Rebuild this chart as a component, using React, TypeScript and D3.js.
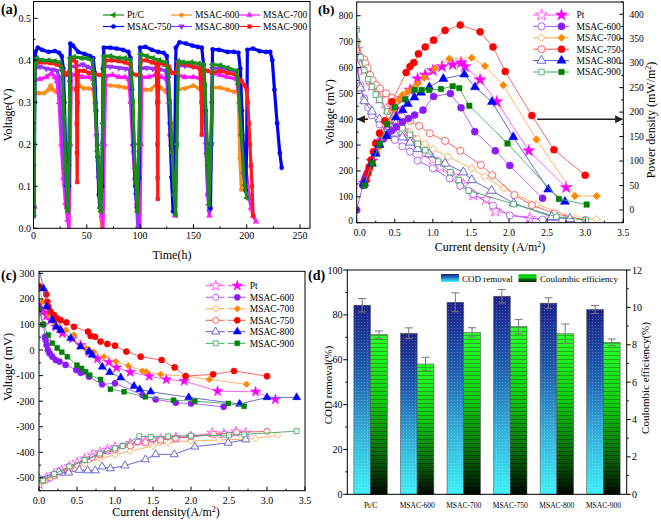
import React from "react";
import * as d3 from "d3";

const FONT = "'Liberation Serif','Times New Roman',serif";
type P = [number, number];

// ---------------- (a) voltage vs time: [h, V]
const aPtC: P[] = [[0.3,0.03],[0.8,0.2],[1.3,0.39],[3,0.405],[8,0.4],[14,0.4],[20,0.398],[25,0.395],[27,0.375],[28.6,0.263],[30.2,0.143],[31.8,0.048],[32.5,0.04],[33.5,0.2],[34.2,0.405],[38,0.408],[45,0.405],[50,0.405],[55,0.4],[57,0.343],[60,0.183],[62.5,0.048],[63.2,0.04],[65,0.25],[66.1,0.41],[72,0.41],[80,0.405],[86,0.405],[91,0.4],[93.3,0.3],[95.2,0.143],[97.4,0.04],[98.8,0.2],[100.5,0.415],[106,0.41],[112,0.405],[118,0.4],[124,0.395],[126,0.38],[128,0.3],[130,0.18],[132,0.08],[133.4,0.032],[134.5,0.2],[135.8,0.398],[140,0.395],[148,0.395],[155,0.392],[159.3,0.39],[161,0.34],[163,0.18],[164.5,0.056],[166,0.15],[168,0.39],[175,0.388],[182,0.382],[190.6,0.375],[192.1,0.343],[195,0.223],[198,0.103],[200.2,0.072]];
const a600: P[] = [[0.5,0.1],[1,0.32],[5,0.322],[10,0.322],[14,0.33],[16,0.34],[18,0.33],[21,0.325],[24,0.322],[26,0.31],[28,0.22],[30,0.12],[32,0.05],[33.5,0.15],[34.8,0.33],[38,0.333],[43,0.34],[47,0.333],[52,0.333],[56,0.33],[58,0.28],[60,0.16],[62,0.06],[64,0.0],[65,0.1],[66.5,0.34],[72,0.34],[80,0.338],[86,0.335],[91,0.333],[93,0.28],[95,0.15],[97,0.05],[98.5,0.0],[99.5,0.15],[100.5,0.325],[105,0.33],[110,0.33],[116,0.345],[120,0.333],[124,0.325],[127,0.32],[129,0.25],[131,0.13],[132.5,0.05],[134,0.2],[135,0.33],[142,0.333],[150,0.34],[155,0.333],[159,0.33],[161,0.27],[163,0.15],[165,0.05],[167,0.2],[168,0.335],[175,0.335],[182,0.33],[188,0.325],[192,0.325],[193.5,0.167],[195,0.092]];
const a700: P[] = [[0.5,0.05],[1,0.355],[6,0.355],[12,0.36],[17,0.37],[20,0.36],[22,0.35],[24,0.3],[26,0.2],[28,0.12],[30,0.06],[32,0.02],[33.3,0.0],[34.5,0.2],[35.5,0.367],[40,0.365],[46,0.36],[52,0.36],[56,0.355],[58,0.3],[60,0.2],[62,0.1],[64,0.03],[65.2,0.0],[66.5,0.2],[67.7,0.363],[74,0.365],[80,0.36],[86,0.36],[89.3,0.355],[91,0.3],[93,0.2],[95,0.12],[97,0.06],[99.9,0.0],[100.8,0.2],[101.6,0.36],[108,0.36],[114,0.365],[120,0.36],[125,0.355],[127,0.3],[129,0.2],[131,0.1],[132.7,0.03],[134,0.2],[135.5,0.365],[142,0.36],[150,0.36],[157,0.357],[160,0.3],[162,0.18],[163.5,0.08],[165,0.03],[166.5,0.2],[168,0.37],[175,0.365],[182,0.36],[190.6,0.355],[193,0.3],[196,0.223],[199,0.15],[202,0.08],[204,0.048],[206,0.03],[208.7,0.016]];
const a750: P[] = [[0.5,0.03],[1.2,0.3],[1.8,0.42],[4,0.43],[8,0.425],[14,0.42],[20,0.422],[24,0.418],[26.5,0.41],[28,0.38],[29,0.3],[30,0.2],[31,0.1],[31.8,0.05],[33.2,0.1],[34,0.35],[34.5,0.44],[37,0.435],[42,0.42],[48,0.415],[53,0.41],[56,0.405],[57.5,0.37],[58.8,0.28],[60,0.17],[61.3,0.08],[62.4,0.05],[64.3,0.1],[65.2,0.38],[66,0.43],[72,0.43],[78,0.428],[84,0.425],[89,0.42],[91,0.405],[92.5,0.33],[94,0.2],[95.5,0.1],[97,0.05],[99,0.12],[99.9,0.43],[105,0.432],[111,0.425],[117,0.42],[122,0.418],[125,0.41],[126.5,0.36],[128,0.25],[129.5,0.12],[130.9,0.04],[132.5,0.2],[133.6,0.43],[137,0.443],[143,0.44],[149,0.435],[154,0.432],[157.8,0.43],[159.5,0.39],[161.5,0.28],[163.5,0.15],[166,0.048],[167.2,0.3],[168,0.426],[174,0.425],[182,0.42],[188,0.42],[192.2,0.418],[194,0.38],[195.5,0.28],[197,0.17],[199,0.09],[200,0.2],[200.6,0.425],[206,0.428],[212,0.422],[218,0.42],[222,0.42],[224,0.4],[226,0.33],[228.5,0.25],[231,0.18],[232.8,0.144]];
const a800: P[] = [[0.5,0.05],[1,0.38],[6,0.385],[12,0.38],[18,0.378],[22,0.375],[24,0.36],[26,0.28],[28,0.18],[30,0.1],[32,0.05],[33.5,0.2],[34.5,0.385],[40,0.385],[46,0.39],[50,0.385],[55,0.38],[57,0.33],[59,0.22],[61,0.12],[63,0.05],[65,0.2],[66.5,0.385],[72,0.385],[80,0.382],[86,0.38],[90,0.378],[92,0.3],[94,0.18],[96,0.08],[98,0.0],[99.5,0.2],[100.5,0.38],[106,0.382],[112,0.38],[118,0.378],[124,0.375],[126,0.33],[128,0.22],[130,0.12],[132,0.05],[134,0.2],[135.5,0.387],[142,0.387],[150,0.385],[157,0.383],[159.5,0.33],[161.5,0.2],[163.5,0.08],[165,0.04],[167,0.2],[168,0.38],[175,0.38],[182,0.375],[190,0.37],[193,0.33],[195,0.22],[197,0.13],[199,0.09]];
const a900: P[] = [[0.5,0.05],[1,0.39],[5,0.395],[10,0.395],[16,0.393],[22,0.39],[26,0.385],[29,0.37],[31,0.365],[33,0.37],[35,0.4],[38,0.4],[40,0.395],[40.3,0.33],[40.5,0.25],[40.7,0.18],[41,0.11],[41.5,0.3],[42,0.375],[47,0.375],[52,0.37],[57,0.367],[62,0.365],[66,0.365],[67.5,0.4],[73,0.4],[80,0.398],[86,0.395],[91,0.39],[93,0.367],[97,0.365],[100,0.365],[101,0.4],[106,0.4],[111,0.395],[115,0.393],[116,0.3],[116.2,0.2],[116.4,0.12],[116.6,0.07],[117,0.3],[117.5,0.395],[122,0.39],[127,0.385],[130,0.37],[134,0.37],[135.5,0.395],[142,0.39],[150,0.385],[156,0.38],[157.5,0.3],[157.8,0.223],[158.2,0.3],[159,0.38],[163,0.375],[168,0.37],[175,0.375],[182,0.37],[190,0.365],[195.3,0.35],[198,0.34],[200,0.33],[201,0.3],[202,0.25],[203,0.2],[204,0.15],[205,0.1],[206,0.03]];
const aTicksX = [0, 50, 100, 150, 200, 250];
const aTicksY = [0, 0.1, 0.2, 0.3, 0.4, 0.5];

// ---------------- (b) polarization: voltage [A/m2, mV] and power [A/m2, mW/m2]
const bV_Pt: P[] = [[0,670],[0.1,590],[0.2,530],[0.3,480],[0.4,440],[0.5,400],[0.6,355],[0.7,330],[0.8,300],[0.9,270],[1.0,245],[1.1,215],[1.27,178],[1.4,146],[1.53,107],[1.7,90],[1.82,45],[2.27,17],[2.73,10]];
const bV_600: P[] = [[0,630],[0.05,530],[0.1,480],[0.15,445],[0.2,415],[0.3,380],[0.4,350],[0.5,320],[0.6,295],[0.7,275],[0.8,240],[1.0,210],[1.22,171],[1.36,143],[1.53,110],[1.79,66],[2.01,28],[2.44,12],[2.7,6]];
const bV_700: P[] = [[0,690],[0.1,600],[0.2,530],[0.3,480],[0.4,440],[0.5,405],[0.6,375],[0.7,350],[0.8,325],[0.9,305],[1.0,285],[1.2,255],[1.51,210],[1.68,178],[1.93,133],[2.36,71],[2.87,17],[3.15,13]];
const bV_750: P[] = [[0,700],[0.1,631],[0.113,616],[0.144,597],[0.175,571],[0.21,551],[0.253,532],[0.306,519],[0.385,500],[0.46,483],[0.577,435],[0.7,394],[0.82,374],[0.96,345],[1.16,316],[1.36,278],[1.63,223],[1.78,184],[2.07,107],[2.3,68],[2.59,36],[3.0,10]];
const bV_800: P[] = [[0,610],[0.05,520],[0.1,470],[0.2,430],[0.3,400],[0.4,370],[0.5,345],[0.6,330],[0.7,310],[0.8,285],[0.95,265],[1.16,229],[1.4,195],[1.51,165],[1.77,124],[2.06,75],[2.56,23],[2.8,15]];
const bV_900: P[] = [[0,747],[0.05,640],[0.1,590],[0.15,555],[0.2,525],[0.25,495],[0.3,475],[0.4,430],[0.5,395],[0.6,365],[0.7,340],[0.8,305],[0.9,280],[1.07,236],[1.23,195],[1.34,165],[1.47,124],[2.06,72],[2.62,23],[3.01,10]];
const bP_Pt: P[] = [[0.1,55],[0.2,100],[0.3,140],[0.4,175],[0.5,205],[0.6,228],[0.7,245],[0.8,268],[0.9,276],[1.0,285],[1.12,293],[1.26,297],[1.37,301],[1.42,293],[1.62,266],[1.84,221],[2.26,121],[2.75,46]];
const bP_600: P[] = [[0,0],[0.08,50],[0.09,55],[0.1,60],[0.11,64],[0.12,68],[0.13,72],[0.15,79],[0.17,87],[0.2,98],[0.25,118],[0.3,132],[0.35,145],[0.4,155],[0.46,162],[0.52,170],[0.6,180],[0.68,187],[0.76,194],[0.87,204],[1.01,232],[1.23,238],[1.37,209],[1.55,160],[1.82,121],[2.01,91],[2.44,24]];
const bP_700: P[] = [[0.12,61],[0.166,82],[0.21,95],[0.262,116],[0.297,129],[0.35,150],[0.41,180],[0.486,205],[0.55,225],[0.6,235],[0.67,242],[0.743,249],[0.8,258],[0.887,270],[1.028,289],[1.216,309],[1.51,311],[1.684,294],[1.925,255],[2.36,144],[2.865,28.6],[3.15,28.6]];
const bP_750: P[] = [[0.12,61],[0.145,75],[0.165,88],[0.19,102],[0.22,119],[0.25,136],[0.3,157],[0.37,182],[0.46,221],[0.65,281],[0.7,293],[0.75,301],[0.81,319],[0.9,333],[1.01,347],[1.16,367],[1.36,378],[1.62,364],[1.79,333],[1.95,283],[2.3,193],[2.59,123],[3.0,71]];
const bP_800: P[] = [[0.1,55],[0.2,95],[0.25,115],[0.3,133],[0.394,151],[0.516,189],[0.603,204],[0.67,217],[0.757,230],[0.845,240],[0.953,251],[1.137,268],[1.413,277],[1.553,251],[1.776,221],[2.056,149],[2.515,42],[2.734,17]];
const bP_900: P[] = [[0.1,50],[0.2,95],[0.3,135],[0.4,175],[0.5,210],[0.638,226],[0.761,245],[0.853,245],[0.953,245],[1.107,247],[1.26,253],[1.347,249],[1.478,213],[1.98,136],[2.655,22.5],[3.019,11]];

// ---------------- (c) electrode potentials: [A/m2, mV]
const cCat_Pt: P[] = [[0,182],[0.05,150],[0.1,135],[0.153,117],[0.22,91],[0.307,65],[0.44,45],[0.548,19],[0.658,-8],[0.77,-34],[0.92,-47],[1.02,-69],[1.2,-86],[1.45,-102],[1.675,-115],[1.91,-121],[2.35,-161],[2.85,-163],[3.11,-193]];
const cCat_600: P[] = [[0,170],[0.06,100],[0.079,52],[0.088,39],[0.1,20],[0.118,0],[0.14,-13],[0.175,-26],[0.22,-39],[0.27,-45],[0.35,-58],[0.49,-78],[0.548,-89],[0.658,-104],[0.83,-134],[1.0,-130],[1.36,-176],[1.535,-193],[1.8,-206],[2.0,-209],[2.43,-222]];
const cCat_700: P[] = [[0,240],[0.05,190],[0.13,137],[0.197,111],[0.263,91],[0.35,78],[0.46,59],[0.614,7],[0.658,1],[0.724,-8],[0.855,-26],[1.01,-45],[1.175,-61],[1.36,-82],[1.41,-85],[1.6,-95],[1.93,-102],[2.24,-115],[2.73,-134]];
const cCat_750: P[] = [[0,250],[0.096,218],[0.11,189],[0.123,169],[0.153,150],[0.197,137],[0.24,124],[0.285,117],[0.36,108],[0.46,91],[0.645,72],[0.68,55],[0.737,52],[0.81,33],[0.9,24],[1.0,17],[1.15,-6],[1.338,-26],[1.614,-39],[1.785,-68],[1.93,-102],[2.29,-95],[2.566,-82],[3.0,-102]];
const cCat_800: P[] = [[0,320],[0.06,240],[0.1,170],[0.175,117],[0.228,91],[0.285,78],[0.417,46],[0.548,13],[0.658,-6],[0.7,-19],[0.833,-66],[0.93,-87],[1.075,-108],[1.25,-141],[1.325,-154],[1.47,-163],[1.97,-185],[2.64,-211],[3.0,-185],[3.39,-185]];
const cCat_900: P[] = [[0,160],[0.05,100],[0.123,59],[0.175,27],[0.24,8],[0.3,-8],[0.373,-26],[0.5,-59],[0.56,-72],[0.614,-85],[0.667,-98],[0.81,-115],[0.94,-153],[1.12,-163],[1.4,-183],[1.77,-196],[2.05,-200],[2.49,-209],[2.7,-220]];
const cAn_Pt: P[] = [[0,-525],[0.1,-500],[0.2,-485],[0.3,-470],[0.4,-455],[0.5,-440],[0.6,-425],[0.7,-410],[0.8,-400],[0.9,-390],[1.0,-380],[1.2,-365],[1.4,-355],[1.6,-348],[1.8,-342],[2.0,-338],[2.28,-324],[2.43,-327],[2.59,-320],[2.72,-324]];
const cAn_600: P[] = [[0.08,-510],[0.15,-500],[0.3,-480],[0.5,-450],[0.7,-420],[0.9,-395],[1.1,-375],[1.3,-360],[1.5,-350],[1.8,-345],[2.0,-337],[2.44,-330]];
const cAn_700: P[] = [[0.05,-515],[0.2,-495],[0.4,-470],[0.6,-445],[0.8,-425],[1.0,-410],[1.2,-395],[1.5,-375],[1.7,-363],[2.0,-355],[2.37,-352],[2.85,-346],[3.14,-333]];
const cAn_750: P[] = [[0.05,-510],[0.2,-490],[0.4,-460],[0.6,-430],[0.8,-410],[1.0,-390],[1.2,-375],[1.4,-362],[1.6,-352],[1.8,-345],[2.0,-338],[2.3,-330],[2.6,-322],[3.0,-318]];
const cAn_800: P[] = [[0,-502],[0.26,-476],[0.39,-480],[0.53,-469],[0.64,-471],[0.74,-471],[0.83,-456],[0.94,-463],[1.13,-452],[1.4,-428],[1.535,-408],[1.78,-408],[2.05,-378],[2.49,-363],[2.72,-350]];
const cAn_900: P[] = [[0.05,-510],[0.2,-485],[0.4,-455],[0.6,-430],[0.8,-405],[1.0,-385],[1.1,-375],[1.32,-337],[1.47,-340],[1.7,-338],[2.0,-335],[2.5,-333],[2.7,-330],[3.39,-317]];

// ---------------- (d) bars
const dCategories = ["Pt/C", "MSAC-600", "MSAC-700", "MSAC-750", "MSAC-800", "MSAC-900"];
const dCOD = [84.3, 71.8, 85.6, 88.3, 85.2, 82.4];
const dCODErr = [3.0, 2.4, 4.2, 3.0, 2.4, 1.8];
const dCE = [8.54, 6.97, 8.66, 8.97, 8.59, 8.13];
const dCEErr = [0.2, 0.36, 0.25, 0.39, 0.52, 0.18];

// ----------------------------------------------------------------
type Shape = "circle" | "square" | "diamond" | "tri" | "triDown" | "triLeft" | "star";
function symPath(shape: Shape, size: number) {
  const t = shape === "circle" ? d3.symbolCircle : shape === "square" || shape === "diamond" ? d3.symbolSquare : shape === "star" ? d3.symbolStar : d3.symbolTriangle;
  return d3.symbol().type(t).size(size)() as string;
}
function rot(shape: Shape) {
  return shape === "diamond" ? 45 : shape === "triDown" ? 180 : shape === "triLeft" ? -90 : 0;
}
function Mk({ shape, x, y, size, fill, stroke, sw = 1 }: { shape: Shape; x: number; y: number; size: number; fill: string; stroke: string; sw?: number }) {
  return <path d={symPath(shape, size)} transform={`translate(${x},${y}) rotate(${rot(shape)})`} fill={fill} stroke={stroke} strokeWidth={sw} />;
}

function range(a: number, b: number, s: number) {
  const out: number[] = [];
  for (let v = a; v <= b + 1e-9; v += s) out.push(+v.toFixed(6));
  return out;
}

const txt = (size: number, extra: any = {}) => ({ fontFamily: FONT, fontSize: size, fill: "#000", ...extra });

// ---------------- Panel A
function PanelA() {
  const x = d3.scaleLinear().domain([0, 260]).range([33.5, 310.7]);
  const y = d3.scaleLinear().domain([0, 0.54]).range([228.3, 1.5]);
  const L = d3.line<P>().x((d) => x(d[0])).y((d) => y(d[1]));
  const series = [
    { name: "MSAC-600", data: a600, color: "#ff8c1a", shape: "circle" as Shape },
    { name: "MSAC-700", data: a700, color: "#ff1aff", shape: "tri" as Shape },
    { name: "MSAC-800", data: a800, color: "#9933ff", shape: "triDown" as Shape },
    { name: "MSAC-750", data: a750, color: "#0000ff", shape: "circle" as Shape },
    { name: "MSAC-900", data: a900, color: "#ff1a1a", shape: "square" as Shape },
    { name: "Pt/C", data: aPtC, color: "#1a8c1a", shape: "triLeft" as Shape },
  ];
  const legend = [
    { name: "Pt/C", color: "#1a8c1a", shape: "triLeft" as Shape, lx: 103, ly: 15 },
    { name: "MSAC-600", color: "#ff8c1a", shape: "circle" as Shape, lx: 171, ly: 15 },
    { name: "MSAC-700", color: "#ff1aff", shape: "tri" as Shape, lx: 239, ly: 15 },
    { name: "MSAC-750", color: "#0000ff", shape: "circle" as Shape, lx: 103, ly: 26.5 },
    { name: "MSAC-800", color: "#9933ff", shape: "triDown" as Shape, lx: 171, ly: 26.5 },
    { name: "MSAC-900", color: "#ff1a1a", shape: "square" as Shape, lx: 239, ly: 26.5 },
  ];
  const x0 = 33.5, x1 = 310, y0 = 1.5, y1 = 228.3;
  return (
    <g>
      <defs>
        <clipPath id="clipA"><rect x={x0} y={y0} width={x1 - x0} height={y1 - y0} /></clipPath>
      </defs>
      <g clipPath="url(#clipA)">
        {series.map((s) => (
          <g key={s.name}>
            <path d={L(s.data) as string} fill="none" stroke={s.color} strokeWidth={3.2} strokeLinejoin="round" />
            {s.data.map((d, i) => (
              <Mk key={i} shape={s.shape} x={x(d[0])} y={y(d[1])} size={14} fill={s.color} stroke={s.color} sw={0.5} />
            ))}
          </g>
        ))}
      </g>
      <rect x={x0} y={y0} width={x1 - x0} height={y1 - y0} fill="none" stroke="#000" strokeWidth={1} />
      {range(0, 250, 25).map((v) => (
        <line key={"ax" + v} x1={x(v)} x2={x(v)} y1={y1} y2={y1 - (v % 50 === 0 ? 4 : 2)} stroke="#000" />
      ))}
      {range(0, 0.5, 0.05).map((v) => (
        <line key={"ay" + v} x1={x0} x2={x0 + (Math.round(v * 100) % 10 === 0 ? 4 : 2)} y1={y(v)} y2={y(v)} stroke="#000" />
      ))}
      {aTicksX.map((v) => (
        <text key={"tx" + v} x={x(v)} y={239} textAnchor="middle" {...txt(10)}>{v}</text>
      ))}
      {aTicksY.map((v) => (
        <text key={"ty" + v} x={31} y={y(v) + 3.5} textAnchor="end" {...txt(10)}>{v.toFixed(1)}</text>
      ))}
      <text x={172} y={259} textAnchor="middle" {...txt(12)}>Time(h)</text>
      <text transform="translate(12,115) rotate(-90)" textAnchor="middle" {...txt(12)}>Voltage(V)</text>
      <text x={1} y={14} {...txt(14, { fontWeight: "bold" })}>(a)</text>
      {legend.map((l) => (
        <g key={l.name}>
          <line x1={l.lx} x2={l.lx + 21} y1={l.ly} y2={l.ly} stroke={l.color} strokeWidth={1.2} />
          <Mk shape={l.shape} x={l.lx + 10.5} y={l.ly} size={14} fill={l.color} stroke={l.color} sw={0.5} />
          <text x={l.lx + 24} y={l.ly + 3.3} {...txt(9.5)}>{l.name}</text>
        </g>
      ))}
    </g>
  );
}

// ---------------- Panel B
function PanelB() {
  const x = d3.scaleLinear().domain([0, 3.5]).range([356.7, 623.3]);
  const yL = d3.scaleLinear().domain([0, 853]).range([222.7, 2]);
  const yR = d3.scaleLinear().domain([-26, 425]).range([222.7, 2]);
  const LV = d3.line<P>().x((d) => x(d[0])).y((d) => yL(d[1]));
  const LP = d3.line<P>().x((d) => x(d[0])).y((d) => yR(d[1]));
  const ser = [
    { name: "Pt", v: bV_Pt, p: bP_Pt, color: "#ff00ff", lc: "#ff55ee", shape: "star" as Shape },
    { name: "MSAC-600", v: bV_600, p: bP_600, color: "#8c1aff", lc: "#a855f0", shape: "circle" as Shape },
    { name: "MSAC-700", v: bV_700, p: bP_700, color: "#ff8800", lc: "#ffaa55", shape: "diamond" as Shape },
    { name: "MSAC-750", v: bV_750, p: bP_750, color: "#ff0000", lc: "#ff5555", shape: "circle" as Shape },
    { name: "MSAC-800", v: bV_800, p: bP_800, color: "#0000ff", lc: "#5a5ac8", shape: "tri" as Shape },
    { name: "MSAC-900", v: bV_900, p: bP_900, color: "#008000", lc: "#44aa66", shape: "square" as Shape },
  ];
  const sz = (s: Shape) => (s === "square" ? 30 : s === "star" ? 45 : s === "tri" ? 36 : s === "diamond" ? 28 : 40);
  const x0 = 356.7, x1 = 623.3, y0 = 2, y1 = 222.7;
  const legY = [15, 26.4, 37.8, 49.2, 60.6, 72];
  return (
    <g>
      <defs>
        <clipPath id="clipB"><rect x={x0} y={y0} width={x1 - x0} height={y1 - y0} /></clipPath>
      </defs>
      <g clipPath="url(#clipB)">
        {ser.map((s) => (
          <g key={"v" + s.name}>
            <path d={LV(s.v) as string} fill="none" stroke={s.lc} strokeWidth={0.9} />
            {s.v.map((d, i) => (
              <Mk key={i} shape={s.shape} x={x(d[0])} y={yL(d[1])} size={sz(s.shape)} fill="#fff" stroke={s.lc} sw={0.9} />
            ))}
          </g>
        ))}
        {ser.map((s) => (
          <g key={"p" + s.name}>
            <path d={LP(s.p) as string} fill="none" stroke={s.lc} strokeWidth={0.9} />
            {s.p.map((d, i) => (
              <Mk key={i} shape={s.shape} x={x(d[0])} y={yR(d[1])} size={sz(s.shape)} fill={s.color} stroke={s.color} sw={0.5} />
            ))}
          </g>
        ))}
      </g>
      <defs>
        <marker id="arrB" viewBox="0 0 10 10" refX="9" refY="5" markerWidth="5" markerHeight="5" orient="auto">
          <path d="M0,0 L10,5 L0,10 z" fill="#222" />
        </marker>
      </defs>
      <line x1={x(0.15)} x2={x(0.0) + 1} y1={yL(400)} y2={yL(400)} stroke="#222" strokeWidth={1.6} markerEnd="url(#arrB)" />
      <line x1={x(2.37)} x2={x(3.5) - 1} y1={yL(400)} y2={yL(400)} stroke="#222" strokeWidth={1.6} markerEnd="url(#arrB)" />
      <rect x={x0} y={y0} width={x1 - x0} height={y1 - y0} fill="none" stroke="#000" strokeWidth={1} />
      {range(0, 3.5, 0.25).map((v) => (
        <line key={"bx" + v} x1={x(v)} x2={x(v)} y1={y1} y2={y1 - (Math.round(v * 100) % 50 === 0 ? 4 : 2)} stroke="#000" />
      ))}
      {range(0, 800, 50).map((v) => (
        <line key={"bl" + v} x1={x0} x2={x0 + (v % 100 === 0 ? 4 : 2)} y1={yL(v)} y2={yL(v)} stroke="#000" />
      ))}
      {range(-25, 425, 25).map((v) => (
        <line key={"br" + v} x1={x1} x2={x1 - (v % 50 === 0 ? 4 : 2)} y1={yR(v)} y2={yR(v)} stroke="#000" />
      ))}
      {range(0, 3.5, 0.5).map((v) => (
        <text key={"btx" + v} x={x(v) + (v === 0 ? 3 : 0)} y={235.5} textAnchor="middle" {...txt(9.5)}>{v.toFixed(1)}</text>
      ))}
      {range(0, 800, 100).map((v) => (
        <text key={"bty" + v} x={353} y={yL(v) + (v === 0 ? 1.5 : 3.3)} textAnchor="end" {...txt(9.5)}>{v}</text>
      ))}
      {range(0, 400, 50).map((v) => (
        <text key={"btr" + v} x={629.5} y={yR(v) + 3.3} textAnchor="start" {...txt(9.5)}>{v}</text>
      ))}
      <text x={490} y={251} textAnchor="middle" {...txt(12)}>Current density (A/m<tspan dy={-4} fontSize={8}>2</tspan><tspan dy={4}>)</tspan></text>
      <text transform="translate(334,112) rotate(-90)" textAnchor="middle" {...txt(12)}>Voltage (mV)</text>
      <text transform="translate(655,120) rotate(-90)" textAnchor="middle" {...txt(12)}>Power density (mW/m<tspan dy={-4} fontSize={8}>2</tspan><tspan dy={4}>)</tspan></text>
      <text x={318} y={14} {...txt(13.5, { fontWeight: "bold" })}>(b)</text>
      {ser.map((s, i) => (
        <g key={"lg" + s.name}>
          <line x1={533} x2={569} y1={legY[i]} y2={legY[i]} stroke={s.lc} strokeWidth={1} />
          <Mk shape={s.shape} x={541.5} y={legY[i]} size={sz(s.shape)} fill="#fff" stroke={s.lc} sw={0.9} />
          <Mk shape={s.shape} x={561.5} y={legY[i]} size={sz(s.shape)} fill={s.color} stroke={s.color} sw={0.5} />
          <text x={576.5} y={legY[i] + 3.4} {...txt(9.5)}>{s.name}</text>
        </g>
      ))}
    </g>
  );
}

// ---------------- Panel C
function PanelC() {
  const x = d3.scaleLinear().domain([0, 3.5]).range([39, 305]);
  const y = d3.scaleLinear().domain([-550, 308]).range([490.7, 271.3]);
  const L = d3.line<P>().x((d) => x(d[0])).y((d) => y(d[1]));
  const ser = [
    { name: "Pt", cat: cCat_Pt, an: cAn_Pt, color: "#ff00ff", lc: "#ff55ee", shape: "star" as Shape },
    { name: "MSAC-600", cat: cCat_600, an: cAn_600, color: "#8c1aff", lc: "#a855f0", shape: "circle" as Shape },
    { name: "MSAC-700", cat: cCat_700, an: cAn_700, color: "#ff8800", lc: "#ffaa55", shape: "diamond" as Shape },
    { name: "MSAC-750", cat: cCat_750, an: cAn_750, color: "#ff0000", lc: "#ff5555", shape: "circle" as Shape },
    { name: "MSAC-800", cat: cCat_800, an: cAn_800, color: "#0000ff", lc: "#5a5ac8", shape: "tri" as Shape },
    { name: "MSAC-900", cat: cCat_900, an: cAn_900, color: "#008000", lc: "#44aa66", shape: "square" as Shape },
  ];
  const sz = (s: Shape) => (s === "square" ? 24 : s === "star" ? 34 : s === "tri" ? 28 : s === "diamond" ? 22 : 30);
  const x0 = 39, x1 = 305, y0 = 271.3, y1 = 490.7;
  const legY = [285.7, 297.3, 308.7, 320.3, 331.7, 343.3];
  return (
    <g>
      <defs>
        <clipPath id="clipC"><rect x={x0} y={y0} width={x1 - x0} height={y1 - y0} /></clipPath>
      </defs>
      <g clipPath="url(#clipC)">
        {ser.map((s) => (
          <g key={"an" + s.name}>
            <path d={L(s.an) as string} fill="none" stroke={s.lc} strokeWidth={0.9} />
            {s.an.map((d, i) => (
              <Mk key={i} shape={s.shape} x={x(d[0])} y={y(d[1])} size={sz(s.shape)} fill="#fff" stroke={s.lc} sw={0.9} />
            ))}
          </g>
        ))}
        {ser.map((s) => (
          <g key={"ct" + s.name}>
            <path d={L(s.cat) as string} fill="none" stroke={s.lc} strokeWidth={0.9} />
            {s.cat.map((d, i) => (
              <Mk key={i} shape={s.shape} x={x(d[0])} y={y(d[1])} size={sz(s.shape)} fill={s.color} stroke={s.color} sw={0.5} />
            ))}
          </g>
        ))}
      </g>
      <rect x={x0} y={y0} width={x1 - x0} height={y1 - y0} fill="none" stroke="#000" strokeWidth={1} />
      {range(0, 3.5, 0.25).map((v) => (
        <line key={"cx" + v} x1={x(v)} x2={x(v)} y1={y1} y2={y1 - (Math.round(v * 100) % 50 === 0 ? 4 : 2)} stroke="#000" />
      ))}
      {range(-550, 300, 50).map((v) => (
        <line key={"cy" + v} x1={x0} x2={x0 + (v % 100 === 0 ? 4 : 2)} y1={y(v)} y2={y(v)} stroke="#000" />
      ))}
      {range(0, 3.5, 0.5).map((v) => (
        <text key={"ctx" + v} x={x(v)} y={503.5} textAnchor="middle" {...txt(10)}>{v.toFixed(1)}</text>
      ))}
      {range(-500, 300, 100).map((v) => (
        <text key={"cty" + v} x={34.5} y={y(v) + 3.5} textAnchor="end" {...txt(10)}>{v}</text>
      ))}
      <text x={166} y={516} textAnchor="middle" {...txt(12)}>Current density(A/m<tspan dy={-4} fontSize={8}>2</tspan><tspan dy={4}>)</tspan></text>
      <text transform="translate(12,367) rotate(-90)" textAnchor="middle" {...txt(12.5)}>Voltage (mV)</text>
      <text x={1} y={280} {...txt(14, { fontWeight: "bold" })}>(c)</text>
      {ser.map((s, i) => (
        <g key={"lc" + s.name}>
          <line x1={205.7} x2={245.7} y1={legY[i]} y2={legY[i]} stroke={s.lc} strokeWidth={1} strokeDasharray="8,3" />
          <Mk shape={s.shape} x={215.7} y={legY[i]} size={sz(s.shape)} fill="#fff" stroke={s.lc} sw={0.9} />
          <Mk shape={s.shape} x={237.3} y={legY[i]} size={sz(s.shape)} fill={s.color} stroke={s.color} sw={0.5} />
          <text x={249.7} y={legY[i] + 3.4} {...txt(9.5)}>{s.name}</text>
        </g>
      ))}
    </g>
  );
}

// ---------------- Panel D
function PanelD() {
  const x = d3.scaleBand<string>().domain(dCategories).range([347.3, 626.7]).paddingInner(0).paddingOuter(0);
  const yL = d3.scaleLinear().domain([0, 100]).range([494.3, 270]);
  const yR = d3.scaleLinear().domain([0, 12]).range([494.3, 270]);
  const bw = 16.7;
  const x0 = 347.3, x1 = 626.7, y0 = 270, y1 = 494.3;
  return (
    <g>
      <defs>
        <linearGradient id="gCOD" x1="0" y1="0" x2="0" y2="1">
          <stop offset="0" stopColor="#1a2088" />
          <stop offset="0.35" stopColor="#1f5fb0" />
          <stop offset="0.7" stopColor="#35b5dc" />
          <stop offset="1" stopColor="#3cf0f8" />
        </linearGradient>
        <linearGradient id="gCE" x1="0" y1="0" x2="0" y2="1">
          <stop offset="0" stopColor="#2dff2d" />
          <stop offset="0.4" stopColor="#10d010" />
          <stop offset="0.75" stopColor="#0a6a0a" />
          <stop offset="1" stopColor="#000800" />
        </linearGradient>
        <pattern id="pStripe" width="4" height="4" patternUnits="userSpaceOnUse">
          <rect x="0" y="3" width="4" height="1" fill="rgba(0,0,0,0.28)" />
        </pattern>
        <pattern id="pDot" width="3" height="3" patternUnits="userSpaceOnUse">
          <rect x="1" y="1" width="1" height="1" fill="rgba(255,255,255,0.25)" />
        </pattern>
      </defs>
      {dCategories.map((c, i) => {
        const gx = (x(c) as number) + (x.bandwidth() - 2 * bw) / 2;
        const hc = yL(dCOD[i]);
        const he = yR(dCE[i]);
        const cxC = gx + bw / 2;
        const cxE = gx + bw * 1.5;
        return (
          <g key={c}>
            <rect x={gx} y={hc} width={bw} height={y1 - hc} fill="url(#gCOD)" stroke="#555" strokeWidth={0.6} />
            <rect x={gx} y={hc} width={bw} height={y1 - hc} fill="url(#pDot)" />
            <rect x={gx + bw} y={he} width={bw} height={y1 - he} fill="url(#gCE)" stroke="#555" strokeWidth={0.6} />
            <rect x={gx + bw} y={he} width={bw} height={y1 - he} fill="url(#pStripe)" />
            <g stroke="#777" strokeWidth={1}>
              <line x1={cxC} x2={cxC} y1={yL(dCOD[i] + dCODErr[i])} y2={yL(dCOD[i] - dCODErr[i])} />
              <line x1={cxC - 4} x2={cxC + 4} y1={yL(dCOD[i] + dCODErr[i])} y2={yL(dCOD[i] + dCODErr[i])} />
              <line x1={cxC - 4} x2={cxC + 4} y1={yL(dCOD[i] - dCODErr[i])} y2={yL(dCOD[i] - dCODErr[i])} />
              <line x1={cxE} x2={cxE} y1={yR(dCE[i] + dCEErr[i])} y2={yR(dCE[i] - dCEErr[i])} />
              <line x1={cxE - 4} x2={cxE + 4} y1={yR(dCE[i] + dCEErr[i])} y2={yR(dCE[i] + dCEErr[i])} />
              <line x1={cxE - 4} x2={cxE + 4} y1={yR(dCE[i] - dCEErr[i])} y2={yR(dCE[i] - dCEErr[i])} />
            </g>
            <text x={(x(c) as number) + x.bandwidth() / 2} y={507.5} textAnchor="middle" {...txt(7.5)}>{c}</text>
          </g>
        );
      })}
      <rect x={x0} y={y0} width={x1 - x0} height={y1 - y0} fill="none" stroke="#000" strokeWidth={1} />
      {range(0, 100, 10).map((v) => (
        <line key={"dl" + v} x1={x0} x2={x0 - (v % 20 === 0 ? 4 : 2)} y1={yL(v)} y2={yL(v)} stroke="#000" />
      ))}
      {range(0, 12, 1).map((v) => (
        <line key={"dr" + v} x1={x1} x2={x1 + (v % 2 === 0 ? 4 : 2)} y1={yR(v)} y2={yR(v)} stroke="#000" />
      ))}
      {range(0, 100, 20).map((v) => (
        <text key={"dtl" + v} x={342.5} y={yL(v) + 3.5} textAnchor="end" {...txt(10)}>{v}</text>
      ))}
      {range(0, 12, 2).map((v) => (
        <text key={"dtr" + v} x={632} y={yR(v) + 3.5} textAnchor="start" {...txt(10)}>{v}</text>
      ))}
      <rect x={441} y={274} width={18} height={8} fill="url(#gCOD)" />
      <text x={462} y={281.5} {...txt(9)}>COD removal</text>
      <rect x={518.5} y={274} width={18} height={8} fill="url(#gCE)" />
      <rect x={518.5} y={274} width={18} height={8} fill="url(#pStripe)" />
      <text x={540} y={281.5} {...txt(9)}>Coulombic efficiency</text>
      <text transform="translate(332,385) rotate(-90)" textAnchor="middle" {...txt(11)}>COD removal(%)</text>
      <text transform="translate(649,378) rotate(-90)" textAnchor="middle" {...txt(11)}>Coulombic efficiency(%)</text>
      <text x={308} y={280} {...txt(14, { fontWeight: "bold" })}>(d)</text>
    </g>
  );
}

export default function App() {
  return (
    <svg width={661} height={520} style={{ position: "absolute", left: 0, top: 0, background: "#fff" }}>
      <rect x={0} y={0} width={661} height={520} fill="#fff" />
      <PanelA />
      <PanelB />
      <PanelC />
      <PanelD />
    </svg>
  );
}
